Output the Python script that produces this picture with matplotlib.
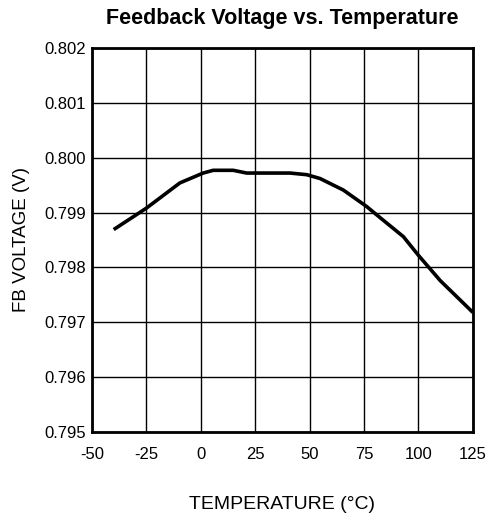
import matplotlib
matplotlib.use("Agg")
import matplotlib.pyplot as plt

# values
temp = [-40, -25, -9.6, 1.1, 5.7, 14.9, 21.1, 24.8, 41, 48.7, 54.8, 65.5, 76.2, 82.3, 93.1, 100, 110, 125]
fb_volt = [0.79869, 0.79908, 0.79954, 0.79972, 0.79977, 0.79977, 0.79972, 0.79972, 0.79972,
           0.79969, 0.79962, 0.79941, 0.79911, 0.79891, 0.79856, 0.79822, 0.79776, 0.79718]
x_ticks = [-50, -25, 0, 25, 50, 75, 100, 125]
y_ticks = [0.795, 0.796, 0.797, 0.798, 0.799, 0.800, 0.801, 0.802]

plt.rcParams['font.family'] = ['Liberation Sans', 'DejaVu Sans']

fig = plt.figure(figsize=(4.89, 5.19), dpi=100)
ax = fig.add_axes([0.188, 0.1676, 0.779, 0.74])

ax.plot(temp, fb_volt, color="black", linewidth=2.6, solid_capstyle="butt", solid_joinstyle="round")

ax.set_xlim(-50, 125)
ax.set_ylim(0.795, 0.802)
ax.set_xticks(x_ticks)
ax.set_xticklabels([str(t) for t in x_ticks])
ax.set_yticks(y_ticks)
ax.set_yticklabels(["%.3f" % v for v in y_ticks])
ax.grid(True, color="black", linewidth=1.0)
ax.tick_params(length=0, labelsize=12, colors="black")
ax.tick_params(axis="x", pad=11)
ax.tick_params(axis="y", pad=4.5)
for s in ax.spines.values():
    s.set_linewidth(2)

ax.set_title("Feedback Voltage vs. Temperature", fontsize=15.5, fontweight="bold", pad=17)
ax.set_xlabel("TEMPERATURE (°C)", fontsize=14, labelpad=24)
ax.set_ylabel("FB VOLTAGE (V)", fontsize=13.5, labelpad=10)

fig.savefig("out.png", dpi=100)
plt.close(fig)
